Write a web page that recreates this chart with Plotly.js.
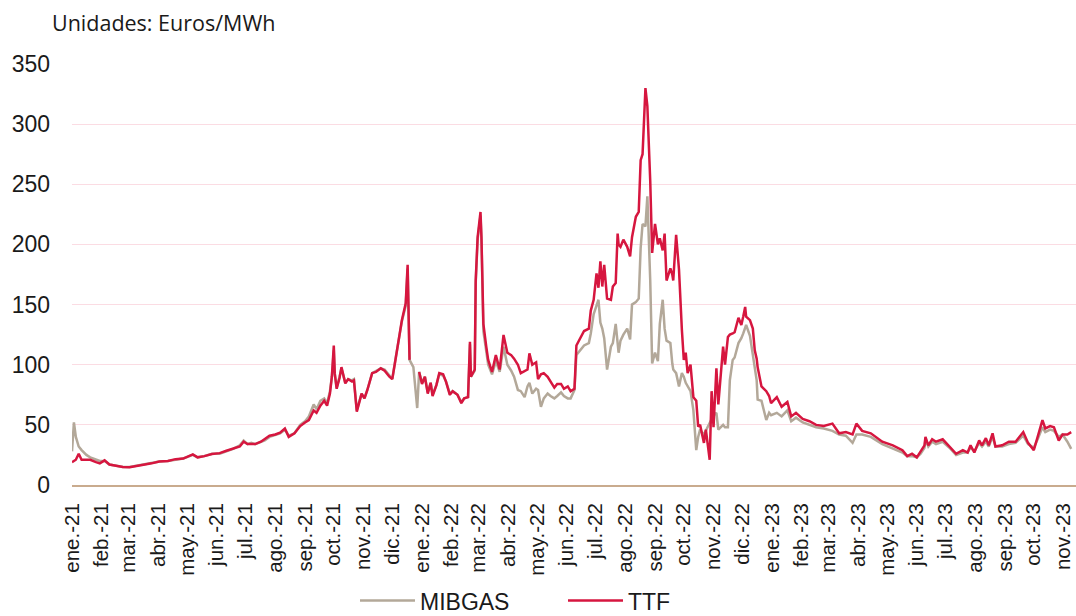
<!DOCTYPE html>
<html>
<head>
<meta charset="utf-8">
<script src="https://cdn.plot.ly/plotly-3.0.1.min.js"></script>
<style>
  html, body { margin: 0; padding: 0; background: #ffffff; }
  #chart { width: 1076px; height: 616px; }
</style>
</head>
<body>
<div id="chart"></div>
<script>
// ---- Data ----
const dates = [
  "2021-01-01","2021-01-03","2021-01-05","2021-01-08","2021-01-11","2021-01-16","2021-01-20","2021-01-26","2021-01-30",
  "2021-02-04","2021-02-09","2021-02-16","2021-02-23","2021-03-02","2021-03-09","2021-03-18","2021-03-25",
  "2021-04-02","2021-04-11","2021-04-19","2021-04-27","2021-05-07","2021-05-12","2021-05-19","2021-05-27",
  "2021-06-04","2021-06-11","2021-06-18","2021-06-25","2021-06-29","2021-07-03","2021-07-07","2021-07-11",
  "2021-07-17","2021-07-21","2021-07-26","2021-08-01","2021-08-06","2021-08-11","2021-08-15","2021-08-21",
  "2021-08-27","2021-09-01","2021-09-05","2021-09-10","2021-09-13","2021-09-17","2021-09-21","2021-09-24",
  "2021-09-27","2021-09-29","2021-10-01","2021-10-02","2021-10-04","2021-10-07","2021-10-09","2021-10-13",
  "2021-10-16","2021-10-20","2021-10-22","2021-10-25","2021-10-30","2021-11-02","2021-11-05","2021-11-10",
  "2021-11-14","2021-11-19","2021-11-23","2021-11-28","2021-12-01","2021-12-04","2021-12-09","2021-12-11",
  "2021-12-15","2021-12-17","2021-12-19","2021-12-23","2021-12-27","2021-12-29",
  "2022-01-01","2022-01-04","2022-01-07","2022-01-10","2022-01-12","2022-01-16","2022-01-19","2022-01-23",
  "2022-01-26","2022-01-30","2022-02-02","2022-02-07","2022-02-11","2022-02-14","2022-02-18","2022-02-20",
  "2022-02-21","2022-02-25","2022-02-26","2022-02-28","2022-03-03","2022-03-04","2022-03-06","2022-03-09",
  "2022-03-11","2022-03-15","2022-03-19","2022-03-23","2022-03-27","2022-03-31","2022-04-04","2022-04-07",
  "2022-04-11","2022-04-14","2022-04-18","2022-04-21","2022-04-23","2022-04-26","2022-04-30","2022-05-02",
  "2022-05-05","2022-05-08","2022-05-12","2022-05-15","2022-05-19","2022-05-22","2022-05-26","2022-05-29",
  "2022-06-02","2022-06-05","2022-06-09","2022-06-11","2022-06-15","2022-06-19","2022-06-24","2022-06-26",
  "2022-06-29","2022-07-02","2022-07-04","2022-07-06","2022-07-08","2022-07-10","2022-07-13","2022-07-17",
  "2022-07-19","2022-07-22","2022-07-24","2022-07-25","2022-07-27","2022-07-30","2022-08-03","2022-08-06",
  "2022-08-08","2022-08-12","2022-08-15","2022-08-17","2022-08-19","2022-08-22","2022-08-24","2022-08-27",
  "2022-08-29","2022-09-01","2022-09-04","2022-09-06","2022-09-09","2022-09-11","2022-09-13","2022-09-17",
  "2022-09-19","2022-09-20","2022-09-23","2022-09-26","2022-09-29","2022-10-01","2022-10-03","2022-10-05",
  "2022-10-08","2022-10-11","2022-10-14","2022-10-16","2022-10-18","2022-10-22","2022-10-24","2022-10-28",
  "2022-10-30","2022-11-01","2022-11-04","2022-11-06","2022-11-11","2022-11-13","2022-11-16","2022-11-18",
  "2022-11-21","2022-11-23","2022-11-27","2022-11-30","2022-12-02","2022-12-04","2022-12-05","2022-12-09",
  "2022-12-12","2022-12-14","2022-12-16","2022-12-17","2022-12-21","2022-12-26","2022-12-29","2022-12-31",
  "2023-01-06","2023-01-11","2023-01-17","2023-01-21","2023-01-26","2023-02-02","2023-02-09","2023-02-16",
  "2023-02-24","2023-03-05","2023-03-12","2023-03-19","2023-03-26","2023-03-30","2023-04-05","2023-04-14",
  "2023-04-26","2023-05-07","2023-05-17","2023-05-22","2023-05-27","2023-06-01","2023-06-05","2023-06-09",
  "2023-06-10","2023-06-13","2023-06-17","2023-06-21","2023-06-28","2023-07-05","2023-07-12","2023-07-19",
  "2023-07-24","2023-07-27","2023-07-31","2023-08-05","2023-08-08","2023-08-12","2023-08-15","2023-08-19",
  "2023-08-22","2023-08-29","2023-09-05","2023-09-12","2023-09-20","2023-09-25","2023-10-01","2023-10-05",
  "2023-10-10","2023-10-13","2023-10-18","2023-10-22","2023-10-27","2023-10-31","2023-11-05","2023-11-09"
];

const mibgas = [
  28,52,40,32,29,25,23,21,20,
  20,17,16,15,15,16,17,18.5,
  19.5,20,21,22,25,23,24,26,
  26,28,30,33,37,34,35,34,
  36,37,40,42,43,46,41,43,
  50,53,57,67,63,70,72,68,
  78,90,112,92,81,90,97,85,
  88,87,88,62,76,72,79,93,
  95,97,96,91,88,103,125,136,
  149,180,104,98,64,94,
  85,90,77,85,75,83,92,91,
  86,76,78,75,69,72,73,117,
  90,95,168,204,224,204,128,110,
  100,92,103,94,115,100,95,90,
  79,78,73,82,85,76,80,79,
  65,72,76,74,72,74,77,74,
  72,72,79,108,112,116,118,126,
  142,150,154,135,130,122,96,115,
  118,134,115,110,120,125,130,121,
  150,152,155,197,217,215,240,170,
  101,110,103,134,154,130,120,118,
  101,96,93,82,93,90,85,82,
  78,62,29,40,46,42,45,51,
  55,58,60,46,50,48,48,87,
  104,106,118,122,126,130,133,124,
  107,95,87,71,70,54,60,58,
  60,57,62,53,56,52,50,48,
  47,45,42,41,35,42,42,40,
  34,30,27,24,24,23,26,31,
  38,32,36,34,36,31,25,27,
  27,31,28,35,32,36,32,40,
  32,32,34,35,41,34,31,38,
  48,44,46,45,40,42,36,30
];

const ttf = [
  19,20,21,26,21,21,21,19,18,
  20.5,17,16,15,14.8,15.5,17,18,
  19.5,20,21.5,22,25.5,23,24,25.8,
  26.5,28.5,30,32,36,34,34,34,
  36,38,41,42,43.5,47,40,43,
  49,52,54,62,60,66,70,66,
  76,90,116,93,80,89,98,84.5,
  88,86,87,61,76,72,79,93,
  94,97,95,90,88,102.5,126,137,
  151,183,104,null,null,94,
  84,90,76,85,74,83,93,92,
  86,75,78,75,68,72,73,119,
  90,96,170,206,227,206,134,115,
  104,94,108,96,124.7,110,108,105,
  100,93,95,96,109.5,100,102,88,
  92,93,90,86,81,84,84,80,
  82,78,80,116,122,128,130,145,
  154,176,164,186,165,183,155,154,
  165,168,209,200,198,204,198,190,
  206,223,227,270,275,330,315,253,
  193,217,200,205,195,209,170,180,
  175,170,208,179,129,104,110,93,
  100,73,70,48.5,50,35,46,21,
  78,48,97,67,115,100,123,125,
  126,127,139,133,140,148,140,137,
  130,112,105,98,82,78,74,68,
  73,65,69,57,60,55,53,50,
  49,51,43,44,42,51,45,43,
  36,33,29,24,26,23,28,33,
  40,33,38,36,38,32,26,29,
  27,33,27,37,33,39,33,43,
  32,33,36,36,44,35,29,40,
  54,47,49,48,37,42,42,44
];

const tickDates = [
  "2021-01-01","2021-02-01","2021-03-01","2021-04-01","2021-05-01","2021-06-01","2021-07-01","2021-08-01",
  "2021-09-01","2021-10-01","2021-11-01","2021-12-01","2022-01-01","2022-02-01","2022-03-01","2022-04-01",
  "2022-05-01","2022-06-01","2022-07-01","2022-08-01","2022-09-01","2022-10-01","2022-11-01","2022-12-01",
  "2023-01-01","2023-02-01","2023-03-01","2023-04-01","2023-05-01","2023-06-01","2023-07-01","2023-08-01",
  "2023-09-01","2023-10-01","2023-11-01"
];
const tickLabels = [
  "ene.-21","feb.-21","mar.-21","abr.-21","may.-21","jun.-21","jul.-21","ago.-21",
  "sep.-21","oct.-21","nov.-21","dic.-21","ene.-22","feb.-22","mar.-22","abr.-22",
  "may.-22","jun.-22","jul.-22","ago.-22","sep.-22","oct.-22","nov.-22","dic.-22",
  "ene.-23","feb.-23","mar.-23","abr.-23","may.-23","jun.-23","jul.-23","ago.-23",
  "sep.-23","oct.-23","nov.-23"
];
const yTicks = [0, 50, 100, 150, 200, 250, 300, 350];
const seriesNames = ["MIBGAS", "TTF"];
const unitsTitle = "Unidades: Euros/MWh";

// ---- Chart ----
const traces = [
  {
    x: dates, y: mibgas, name: seriesNames[0], type: "scatter", mode: "lines",
    line: { color: "#b3a899", width: 2.5 }, connectgaps: false
  },
  {
    x: dates, y: ttf, name: seriesNames[1], type: "scatter", mode: "lines",
    line: { color: "#d6163f", width: 2.5 }, connectgaps: false
  }
];

const layout = {
  width: 1076, height: 616,
  margin: { l: 72, r: 0, t: 64, b: 131, pad: 0, autoexpand: false },
  paper_bgcolor: "#ffffff", plot_bgcolor: "#ffffff",
  font: { family: "Liberation Sans, Arial, sans-serif", color: "#1a1a1a" },
  title: {
    text: unitsTitle, xref: "container", yref: "container",
    x: 52 / 1076, xanchor: "left", y: 1 - 23 / 616, yanchor: "middle",
    font: { family: "Open Sans, Noto Sans, sans-serif", size: 21.5, color: "#1a1a1a" }
  },
  xaxis: {
    type: "date",
    range: ["2021-01-01", "2023-11-14"],
    tickmode: "array", tickvals: tickDates, ticktext: tickLabels,
    tickangle: -90, ticks: "", ticklabelstandoff: 8,
    ticklabeloverflow: "allow",
    tickfont: { size: 20.5, color: "#1a1a1a" },
    showgrid: false, zeroline: false,
    showline: true, linecolor: "#c9ab8e", linewidth: 2,
    automargin: false, fixedrange: true
  },
  yaxis: {
    range: [0, 350],
    tickmode: "array", tickvals: yTicks,
    tickfont: { size: 23, color: "#1a1a1a" },
    ticks: "", ticklabelstandoff: 21,
    showgrid: true, gridcolor: "#fbdce3", gridwidth: 1,
    zeroline: false, showline: false, automargin: false, fixedrange: true
  },
  showlegend: true,
  legend: {
    orientation: "h", xref: "container", yref: "container",
    x: 355 / 1076, xanchor: "left", y: 0.025, yanchor: "middle",
    font: { size: 23, color: "#1a1a1a" },
    itemwidth: 55, entrywidth: 138, entrywidthmode: "pixels",
    bgcolor: "rgba(0,0,0,0)", traceorder: "normal"
  }
};

Plotly.newPlot("chart", traces, layout, { staticPlot: true, displayModeBar: false });
</script>
</body>
</html>
